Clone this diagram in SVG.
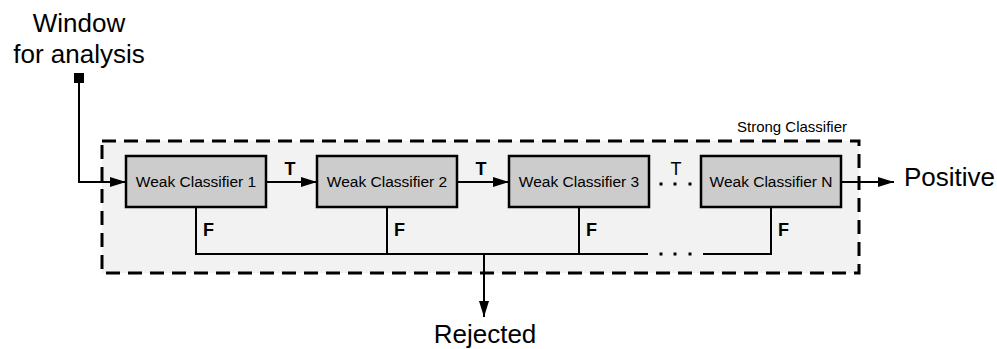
<svg xmlns="http://www.w3.org/2000/svg" width="997" height="349" viewBox="0 0 997 349">
  <style>
    text { font-family: "Liberation Sans", Arial, sans-serif; fill: #000; }
    .big { font-size: 26px; }
    .node-label { font-size: 15.5px; text-anchor: middle; }
    .edge-label { font-size: 18px; font-weight: bold; }
    .box { fill: #cccccc; stroke: #000; stroke-width: 2.5; }
    .wire { fill: none; stroke: #000; stroke-width: 2; }
  </style>
  <defs>
    <marker id="arrow" viewBox="0 0 16 10" refX="16" refY="5" markerWidth="16" markerHeight="10" markerUnits="userSpaceOnUse" orient="auto">
      <path d="M0,0 L16,5 L0,10 Z" fill="#000"/>
    </marker>
  </defs>

  <rect width="997" height="349" fill="#fff"/>

  <!-- strong classifier container -->
  <g id="strong-classifier">
    <rect x="102" y="141" width="757" height="132" fill="#f2f2f2" stroke="#000" stroke-width="3" stroke-dasharray="14 8"/>
    <text x="792" y="132" font-size="15" text-anchor="middle">Strong Classifier</text>
  </g>

  <!-- input and outputs -->
  <g id="input">
    <text class="big" x="79" y="32" text-anchor="middle">Window</text>
    <text class="big" x="79" y="63" text-anchor="middle">for analysis</text>
    <rect x="74" y="73" width="10" height="10" fill="#000"/>
  </g>
  <g id="positive">
    <text class="big" x="904" y="186">Positive</text>
  </g>
  <g id="rejected">
    <text class="big" x="485" y="343" text-anchor="middle">Rejected</text>
  </g>

  <!-- connectors -->
  <g id="connectors">
    <path class="wire" d="M79,80 V182 H126" marker-end="url(#arrow)"/>
    <path class="wire" d="M266,182 H317" marker-end="url(#arrow)"/>
    <path class="wire" d="M457,182 H509" marker-end="url(#arrow)"/>
    <path class="wire" d="M841,182 H894" marker-end="url(#arrow)"/>
    <path class="wire" d="M196,207 V254 H648"/>
    <path class="wire" d="M387,207 V254"/>
    <path class="wire" d="M579,207 V254"/>
    <path class="wire" d="M771,207 V254 H703"/>
    <path class="wire" d="M484,254 V317" marker-end="url(#arrow)"/>
    <!-- elided stages -->
    <g fill="#000">
      <rect x="659.5" y="182.5" width="3" height="3"/>
      <rect x="673.5" y="182.5" width="3" height="3"/>
      <rect x="688.5" y="182.5" width="3" height="3"/>
      <rect x="659.5" y="252.5" width="3" height="3"/>
      <rect x="673.5" y="252.5" width="3" height="3"/>
      <rect x="688.5" y="252.5" width="3" height="3"/>
    </g>
    <text class="edge-label" x="290" y="175" text-anchor="middle">T</text>
    <text class="edge-label" x="481" y="175" text-anchor="middle">T</text>
    <text x="676" y="175" font-size="18" text-anchor="middle">T</text>
    <text class="edge-label" x="203" y="236">F</text>
    <text class="edge-label" x="394" y="236">F</text>
    <text class="edge-label" x="586" y="236">F</text>
    <text class="edge-label" x="778" y="236">F</text>
  </g>

  <!-- weak classifiers -->
  <g id="weak-1">
    <rect class="box" x="126" y="156" width="140" height="51"/>
    <text class="node-label" x="196" y="187">Weak Classifier 1</text>
  </g>
  <g id="weak-2">
    <rect class="box" x="317" y="156" width="140" height="51"/>
    <text class="node-label" x="387" y="187">Weak Classifier 2</text>
  </g>
  <g id="weak-3">
    <rect class="box" x="509" y="156" width="140" height="51"/>
    <text class="node-label" x="579" y="187">Weak Classifier 3</text>
  </g>
  <g id="weak-n">
    <rect class="box" x="701" y="156" width="140" height="51"/>
    <text class="node-label" x="771" y="187">Weak Classifier N</text>
  </g>
</svg>
